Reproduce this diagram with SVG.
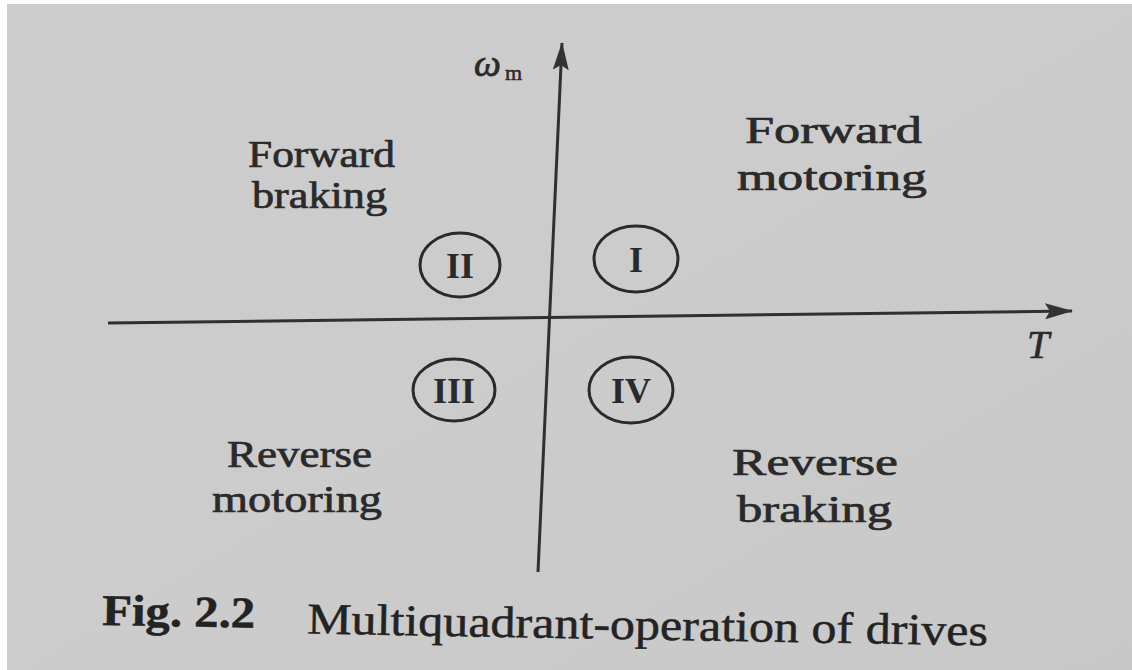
<svg xmlns="http://www.w3.org/2000/svg" width="1132" height="670" viewBox="0 0 1132 670">
  <defs>
    <linearGradient id="paper" x1="0" y1="0" x2="1" y2="1">
      <stop offset="0" stop-color="#cdcdcd"/>
      <stop offset="0.5" stop-color="#cbcccb"/>
      <stop offset="1" stop-color="#c7c8c7"/>
    </linearGradient>
    <marker id="arrow" viewBox="0 0 28 16" refX="27" refY="8" markerWidth="28" markerHeight="16" markerUnits="userSpaceOnUse" orient="auto">
      <path d="M0,0 L28,8 L0,16 L5,8 Z" fill="#333"/>
    </marker>
    <style>
      .lbl { font-family: "Liberation Serif", "Times New Roman", serif; font-size: 38px; fill: #2a2a2a; stroke: #2a2a2a; stroke-width: 0.7px; }
      .num { font-family: "Liberation Serif", "Times New Roman", serif; font-size: 36px; font-weight: bold; fill: #2a2a2a; text-anchor: middle; }
      .ring { fill: none; stroke: #2a2a2a; stroke-width: 3; }
      .axis { stroke: #303030; stroke-width: 3; fill: none; }
      .cap { font-family: "Liberation Serif", "Times New Roman", serif; font-size: 44px; fill: #232323; stroke: #232323; stroke-width: 0.5px; }
    </style>
  </defs>
  <rect x="0" y="0" width="1132" height="670" fill="#ffffff"/>
  <rect x="7" y="4" width="1125" height="666" fill="url(#paper)"/>

  <g id="connectors">
    <line class="axis" x1="108" y1="323" x2="1072" y2="311" marker-end="url(#arrow)"/>
    <line class="axis" x1="538" y1="572" x2="562" y2="43" marker-end="url(#arrow)"/>
  </g>

  <g id="axis-labels">
    <text x="474" y="76" font-family="Liberation Serif, serif" font-style="italic" font-size="38" fill="#2a2a2a" stroke="#2a2a2a" stroke-width="0.8">ω</text>
    <text x="505" y="80" font-family="Liberation Serif, serif" font-size="22" fill="#2a2a2a" stroke="#2a2a2a" stroke-width="0.5">m</text>
    <text x="1027" y="358" font-family="Liberation Serif, serif" font-style="italic" font-size="40" fill="#2a2a2a" stroke="#2a2a2a" stroke-width="0.6">T</text>
  </g>

  <g id="q1">
    <ellipse class="ring" cx="636" cy="259" rx="42" ry="33"/>
    <text class="num" x="636" y="272">I</text>
  </g>
  <g id="q2">
    <ellipse class="ring" cx="460" cy="265" rx="40" ry="32"/>
    <text class="num" x="460" y="278">II</text>
  </g>
  <g id="q3">
    <ellipse class="ring" cx="454" cy="390" rx="41" ry="31"/>
    <text class="num" x="454" y="403">III</text>
  </g>
  <g id="q4">
    <ellipse class="ring" cx="631" cy="390" rx="42" ry="33"/>
    <text class="num" x="631" y="403">IV</text>
  </g>

  <g id="forward-braking">
    <text class="lbl" x="248" y="167" textLength="147" lengthAdjust="spacingAndGlyphs">Forward</text>
    <text class="lbl" x="252" y="208" textLength="135" lengthAdjust="spacingAndGlyphs">braking</text>
  </g>
  <g id="forward-motoring">
    <text class="lbl" x="745" y="143" textLength="177" lengthAdjust="spacingAndGlyphs">Forward</text>
    <text class="lbl" x="737" y="190" textLength="190" lengthAdjust="spacingAndGlyphs">motoring</text>
  </g>
  <g id="reverse-motoring">
    <text class="lbl" x="227" y="467" textLength="145" lengthAdjust="spacingAndGlyphs">Reverse</text>
    <text class="lbl" x="212" y="512" textLength="170" lengthAdjust="spacingAndGlyphs">motoring</text>
  </g>
  <g id="reverse-braking">
    <text class="lbl" x="732" y="475" textLength="166" lengthAdjust="spacingAndGlyphs">Reverse</text>
    <text class="lbl" x="737" y="522" textLength="155" lengthAdjust="spacingAndGlyphs">braking</text>
  </g>

  <g id="caption" transform="rotate(1 102 625)">
    <text class="cap" x="102" y="625" font-weight="bold" textLength="153" lengthAdjust="spacingAndGlyphs">Fig. 2.2</text>
    <text class="cap" x="307" y="630" textLength="681" lengthAdjust="spacingAndGlyphs">Multiquadrant-operation of drives</text>
  </g>
</svg>
